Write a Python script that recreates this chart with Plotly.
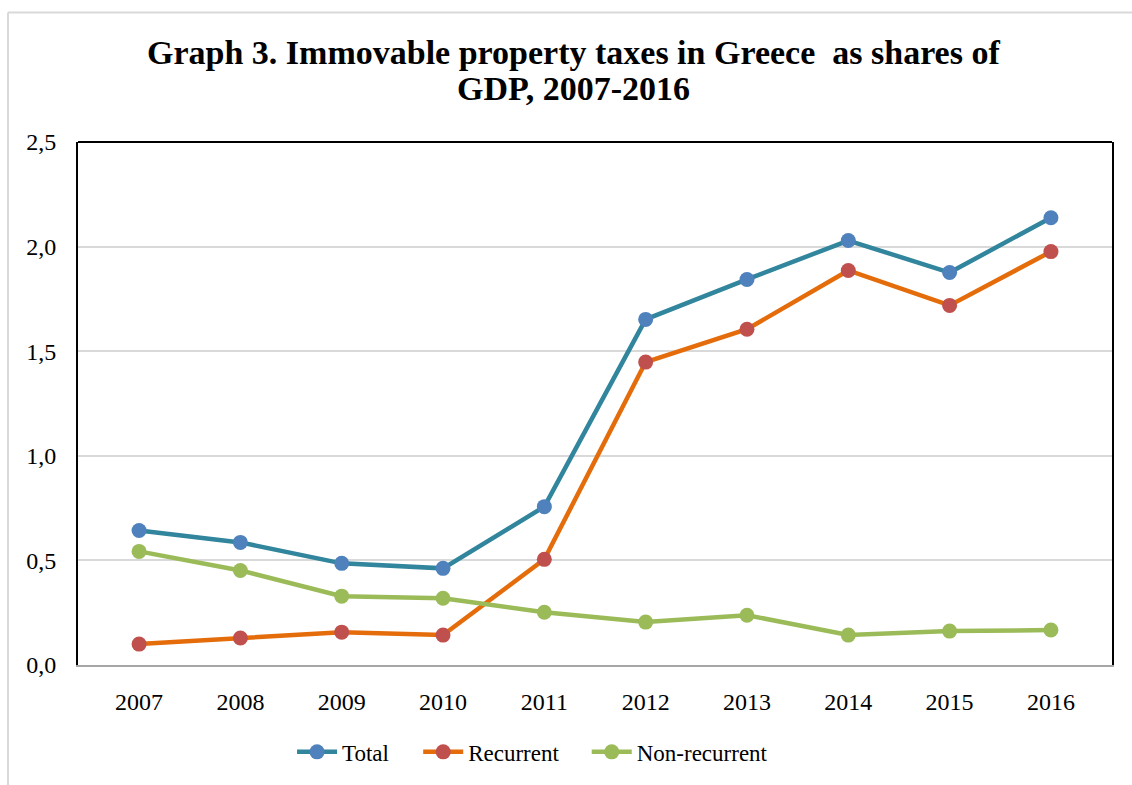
import plotly.graph_objects as go

years = ["2007", "2008", "2009", "2010", "2011", "2012", "2013", "2014", "2015", "2016"]
total = [0.643, 0.586, 0.486, 0.462, 0.757, 1.652, 1.843, 2.029, 1.876, 2.138]
recurrent = [0.100, 0.129, 0.157, 0.143, 0.505, 1.448, 1.605, 1.886, 1.719, 1.976]
non_recurrent = [0.543, 0.452, 0.329, 0.319, 0.252, 0.205, 0.238, 0.143, 0.162, 0.167]

y_ticks = [0, 0.5, 1.0, 1.5, 2.0, 2.5]
y_tick_text = ["0,0", "0,5", "1,0", "1,5", "2,0", "2,5"]

title_lines = ["Graph 3. Immovable property taxes in Greece  as shares of", "GDP, 2007-2016"]

FONT = "Liberation Serif"

series = [
    ("Total", total, "#31859C", "#4F81BD", "legend"),
    ("Recurrent", recurrent, "#E46C0A", "#C0504D", "legend2"),
    ("Non-recurrent", non_recurrent, "#9BBB59", "#9BBB59", "legend3"),
]

fig = go.Figure()
for name, vals, lc, mc, lg in series:
    fig.add_trace(go.Scatter(
        x=years, y=vals, name=name, mode="lines+markers",
        line=dict(color=lc, width=4.5),
        marker=dict(color=mc, size=15),
        legend=lg, showlegend=True,
    ))

leg_common = dict(orientation="h", y=-0.125, yanchor="top", xanchor="left",
                  font=dict(family=FONT, size=23, color="black"), itemwidth=40,
                  bgcolor="rgba(0,0,0,0)")

fig.update_layout(
    width=1132, height=785, showlegend=True,
    paper_bgcolor="white", plot_bgcolor="white",
    margin=dict(l=78, r=20, t=142, b=118),
    font=dict(family=FONT, color="black", size=24),
    legend=dict(x=0.207, **leg_common),
    legend2=dict(x=0.329, **leg_common),
    legend3=dict(x=0.492, **leg_common),
    xaxis=dict(
        type="category", showgrid=False, showline=True, linecolor="#A6A6A6", linewidth=2,
        ticks="", ticklabelstandoff=14, tickfont=dict(size=24),
    ),
    yaxis=dict(
        range=[0, 2.5], tickvals=y_ticks, ticktext=y_tick_text,
        showgrid=True, gridcolor="#D9D9D9", gridwidth=2,
        showline=True, linecolor="black", linewidth=2, mirror=True,
        zeroline=False, ticks="", ticklabelstandoff=15, tickfont=dict(size=24),
    ),
    annotations=[
        dict(text="<b>" + title_lines[0] + "</b>", xref="paper", yref="paper",
             x=0.479, y=1.1714, xanchor="center", yanchor="middle", showarrow=False,
             font=dict(family=FONT, size=34, color="black")),
        dict(text="<b>" + title_lines[1] + "</b>", xref="paper", yref="paper",
             x=0.479, y=1.1029, xanchor="center", yanchor="middle", showarrow=False,
             font=dict(family=FONT, size=34, color="black")),
    ],
    shapes=[
        dict(type="line", xref="paper", yref="paper", x0=0, x1=1, y0=1, y1=1,
             line=dict(color="black", width=2)),
        dict(type="line", xref="paper", yref="paper", x0=-0.0677, x1=1.1, y0=1.2476, y1=1.2476,
             line=dict(color="#D9D9D9", width=2)),
        dict(type="line", xref="paper", yref="paper", x0=-0.0677, x1=-0.0677, y0=1.2476, y1=-0.3,
             line=dict(color="#D9D9D9", width=2)),
    ],
)

fig.write_html("out.html", config={"displayModeBar": False},
               post_script="document.body.style.margin='0px';")
